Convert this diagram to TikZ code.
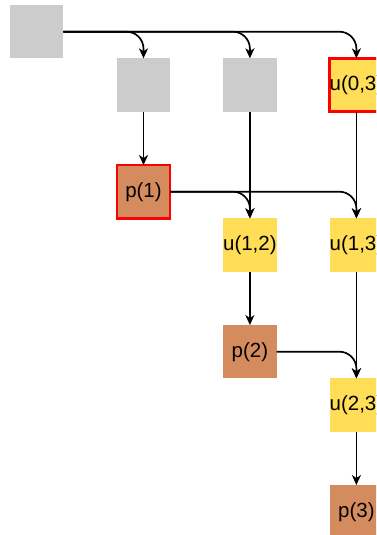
\documentclass[tikz,border=0pt]{standalone}
\usepackage{fontspec}
\setmainfont{Liberation Sans}
\usetikzlibrary{arrows.meta}
\definecolor{grayfill}{HTML}{CCCCCC}
\definecolor{pfill}{HTML}{D48B5E}
\definecolor{ufill}{HTML}{FFDD57}
\definecolor{redline}{HTML}{FF0000}
\begin{document}
\begin{tikzpicture}[x=1pt,y=-1pt,
  box/.style={rectangle,minimum width=53.3pt,minimum height=53.3pt,inner sep=0pt,outer sep=0pt,
    font=\fontsize{20.5}{24}\selectfont},
  graybox/.style={box,fill=grayfill},
  pbox/.style={box,fill=pfill},
  ubox/.style={box,fill=ufill},
  hl/.style={draw=redline,line width=2.6pt},
  conn/.style={line width=1.7pt,-{Stealth[length=10pt,width=9pt,inset=3pt]}},
  curved/.style={conn,rounded corners=17pt}]
\useasboundingbox (0,0) rectangle (376,535);
\clip (0,0) rectangle (376,535);
\node[graybox] (g0) at (36.6,31.7) {};
\node[graybox] (g1) at (143.5,85) {};
\node[graybox] (g2) at (249.9,85) {};
\node[ubox,hl] (u03) at (356.4,85) {u(0,3)};
\node[pbox,hl] (p1) at (143.5,191.7) {p(1)};
\node[ubox] (u12) at (249.9,245) {u(1,2)};
\node[ubox] (u13) at (356.4,245) {u(1,3)};
\node[pbox] (p2) at (249.9,351.7) {p(2)};
\node[ubox] (u23) at (356.4,405) {u(2,3)};
\node[pbox] (p3) at (356.4,511.7) {p(3)};
\draw[curved] (g0.east) -| (g1.north);
\draw[curved] (g0.east) -| (g2.north);
\draw[curved] (g0.east) -| (u03.north);
\draw[curved] (p1.east) -| (u12.north);
\draw[curved] (p1.east) -| (u13.north);
\draw[curved] (p2.east) -| (u23.north);
\draw[conn] (g1.south) -- (p1.north);
\draw[conn] (g2.south) -- (u12.north);
\draw[conn] (u03.south) -- (u13.north);
\draw[conn] (u12.south) -- (p2.north);
\draw[conn] (u13.south) -- (u23.north);
\draw[conn] (u23.south) -- (p3.north);
\end{tikzpicture}
\end{document}
